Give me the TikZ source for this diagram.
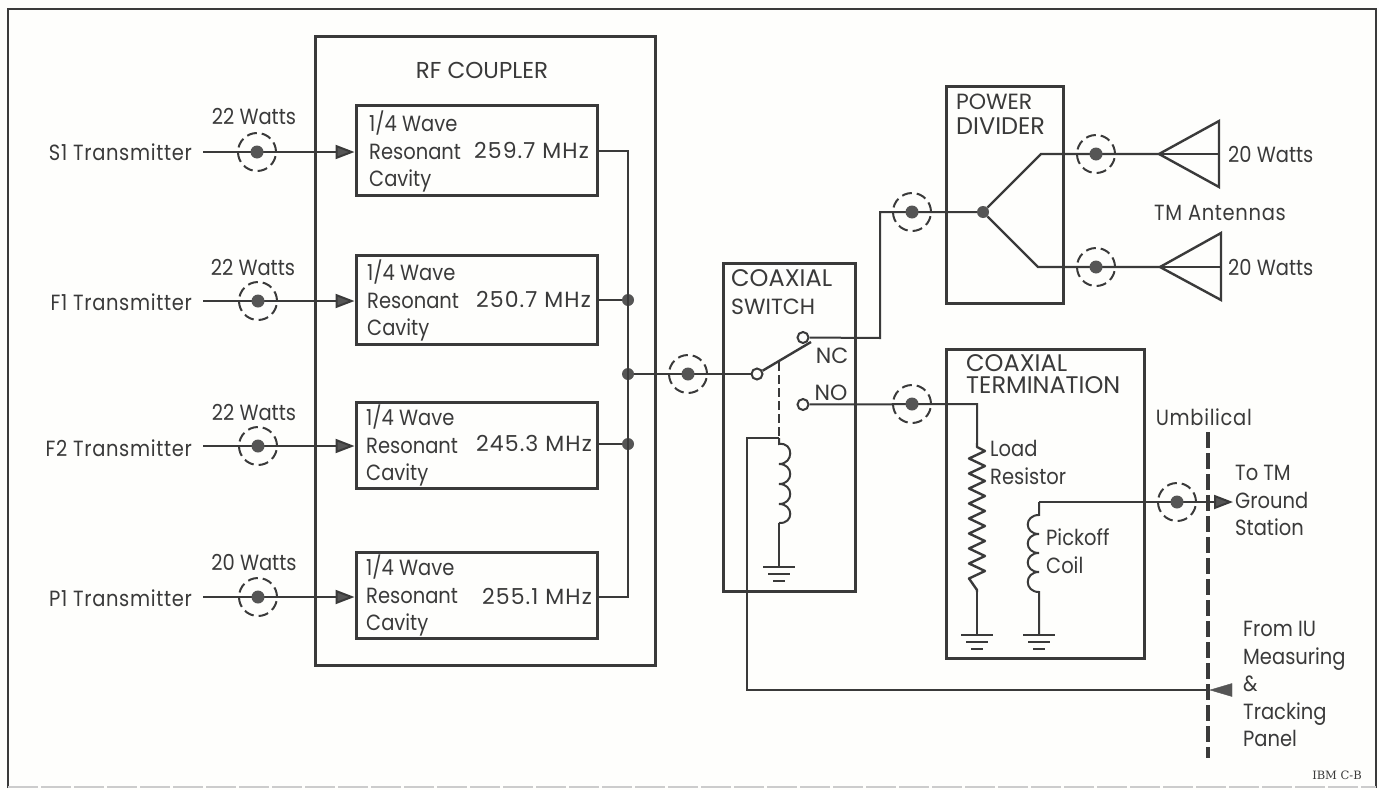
\documentclass[tikz,border=0pt]{standalone}
\usepackage{fontspec}
\setmainfont[FakeStretch=0.886]{Poppins}
\newfontfamily\fA[FakeStretch=0.886]{Poppins}
\newfontfamily\fT[FakeStretch=0.886,LetterSpace=3]{Poppins}
\newfontfamily\fM[LetterSpace=5]{Poppins}
\newfontfamily\fC{Poppins}
\newfontfamily\fI{DejaVu Serif}
\newcommand{\capsA}{\fC\fontsize{24}{27.5}\selectfont}
\newcommand{\capsB}{\fC\fontsize{22}{27.5}\selectfont}
\newcommand{\tl}{\rule{0pt}{20pt}}
\usetikzlibrary{arrows.meta}
\definecolor{ink}{HTML}{3A3A3A}
\definecolor{soft}{HTML}{555555}
\definecolor{paper}{HTML}{FEFEFC}
\tikzset{
  x=1pt,y=-1pt,
  wire/.style={draw=ink,line width=2pt},
  thick box/.style={draw=ink,line width=3pt,line join=miter},
  inner/.style={thick box,minimum width=241pt,inner sep=0pt},
  lab/.style={font=\fA\fontsize{22}{27.5}\selectfont,text=ink,inner sep=0pt,align=left},
  dot/.style={circle,fill=soft,minimum size=12pt,inner sep=0pt},
  coaxring/.style={circle,draw=ink,line width=2pt,dash pattern=on 10pt off 5pt,minimum size=38pt,inner sep=0pt},
  coaxcore/.style={circle,fill=soft,minimum size=13pt,inner sep=0pt},
  contact/.style={circle,draw=ink,fill=paper,line width=2pt,minimum size=11pt,inner sep=0pt},
  tip/.style={-{Triangle[length=19pt,width=14pt,fill=soft]},wire},
}
\newcommand{\coaxat}[2]{\node[coaxring] (#1r) at (#2) {};\node[coaxcore] (#1) at (#2) {};}
\newcommand{\gnd}[2]{%
 \draw[wire] (#1,#2) ++(-16,0) -- ++(32,0);
 \draw[wire] (#1,#2) ++(-11,7) -- ++(22,0);
 \draw[wire] (#1,#2) ++(-6,14) -- ++(12,0);}
\begin{document}
\begin{tikzpicture}
\useasboundingbox (0,0) rectangle (1379,790);
\fill[paper] (0,0) rectangle (1379,790);
\draw[ink,line width=2.6pt] (8,788) -- (8,9) -- (1376,9) -- (1376,788);
\draw[gray!40,line width=1.5pt,dash pattern=on 30pt off 3pt] (8,787) -- (1376,787);
% boxes
\node[thick box,minimum width=340pt,minimum height=629pt,inner sep=0pt] (rf) at (485,350.5) {};
\node[thick box,minimum width=132pt,minimum height=328pt,inner sep=0pt] (sw) at (789,427) {};
\node[thick box,minimum width=117pt,minimum height=217pt,inner sep=0pt] (pd) at (1004.5,194.5) {};
\node[thick box,minimum width=198pt,minimum height=309pt,inner sep=0pt] (ct) at (1045,504) {};
\node[inner,minimum height=90pt] (c1) at (476.5,150) {};
\node[inner,minimum height=89pt] (c2) at (476.5,299.5) {};
\node[inner,minimum height=86pt] (c3) at (476.5,445) {};
\node[inner,minimum height=86pt] (c4) at (476.5,595) {};
\node[lab,anchor=base,font=\fC\fontsize{23}{27.5}\selectfont] (lrf) at (482,78) {RF COUPLER};
% transmitters
\node[lab,anchor=base east,font=\fT\fontsize{22}{27.5}\selectfont] (s1) at (192,160) {S1 Transmitter};
\node[lab,anchor=base east,font=\fT\fontsize{22}{27.5}\selectfont] (f1) at (192,310) {F1 Transmitter};
\node[lab,anchor=base east,font=\fT\fontsize{22}{27.5}\selectfont] (f2) at (192,456) {F2 Transmitter};
\node[lab,anchor=base east,font=\fT\fontsize{22}{27.5}\selectfont] (p1) at (192,606) {P1 Transmitter};
\node[lab,anchor=base] (w1) at (254,124) {22 Watts};
\node[lab,anchor=base] (w2) at (253,275) {22 Watts};
\node[lab,anchor=base] (w3) at (254,420) {22 Watts};
\node[lab,anchor=base] (w4) at (254,570) {20 Watts};
\coordinate (a1) at (203,152);\coordinate (a2) at (203,301);\coordinate (a3) at (203,446);\coordinate (a4) at (203,597);
\draw[tip] (a1) -- (a1-|c1.west);
\draw[tip] (a2) -- (a2-|c2.west);
\draw[tip] (a3) -- (a3-|c3.west);
\draw[tip] (a4) -- (a4-|c4.west);
\coaxat{k1}{257,152}\coaxat{k2}{258,301}\coaxat{k3}{258,446}\coaxat{k4}{258,597}
% cavity text
\foreach \n/\x/\y/\f/\r/\b in {1/369/123/259.7/589/158,2/367/272/250.7/591/307,3/366/417/245.3/592/451,4/366/567/255.1/592/604}{
  \node[lab,anchor=north west] (t\n) at (\x,\y-12.3) {\tl 1/4 Wave\\Resonant\\Cavity};
  \node[lab,anchor=base east,font=\fM\fontsize{22}{27.5}\selectfont] (m\n) at (\r,\b) {\f{} MHz};
}
% bus
\coordinate (b1) at (628,151);\coordinate (b4) at (628,597);
\node[dot] (j2) at (628,300) {};\node[dot] (j3) at (628,374) {};\node[dot] (j4) at (628,444) {};
\draw[wire] (c1.east|-b1) -- (b1) -- (b4) -- (c4.east|-b4);
\draw[wire] (c2.east|-j2) -- (j2);
\draw[wire] (c3.east|-j4) -- (j4);
% switch
\node[contact] (cc) at (757,374) {};
\node[contact] (nc) at (803,337.5) {};
\node[contact] (no) at (803,404.5) {};
\draw[wire] (j3) -- (cc);
\coaxat{k5}{688,374}
\coordinate (arm) at (811,342);
\draw[wire,line width=2.4pt] (cc) -- (arm);
\coordinate (armm) at (779,362);\coordinate (cl) at (779,438);
\draw[wire,dash pattern=on 9pt off 4pt] (armm) -- (cl);
\coordinate (clb) at (779,523);\coordinate (gs) at (779,567);
\draw[wire] (cl) -- (779,444)
  .. controls (794,442) and (794,464) .. (779,464)
  .. controls (794,464) and (794,484) .. (779,484)
  .. controls (794,484) and (794,504) .. (779,504)
  .. controls (794,504) and (794,524) .. (779,523);
\draw[wire] (clb) -- (gs);
\gnd{779}{567}
\coordinate (um) at (1208,690);
\coordinate (cw) at (747,438);
\draw[wire] (cl) -- (cw) -- (cw|-um) -- (um);
\node[lab,anchor=base,font=\capsB] (lnc) at (832,363) {NC};
\node[lab,anchor=base,font=\capsB] (lno) at (831,400) {NO};
\node[lab,anchor=north west,font=\capsA] (lsw) at (731,266.4) {\tl COAXIAL\\\capsB SWITCH};
% NC route
\node[dot] (j5) at (983,212) {};
\coordinate (r1) at (880,338);\coordinate (r2) at (880,212);
\draw[wire] (nc) -- (r1) -- (r2) -- (j5);
\coaxat{k6}{912,212}
\coordinate (u1) at (1041,154);\coordinate (d1) at (1038,267);
\coordinate (ua) at (1159,154);\coordinate (da) at (1160,267);
\draw[wire,line width=2.4pt] (j5) -- (u1) -- (ua);
\draw[wire,line width=2.4pt] (j5) -- (d1) -- (da);
\coaxat{k7}{1096,154}\coaxat{k8}{1096,267}
\draw[wire,line width=2.4pt,line join=miter] (ua) -- (1219,121) -- (1219,187) -- cycle;
\draw[wire] (ua) -- (1219,154);
\draw[wire,line width=2.4pt,line join=miter] (da) -- (1221,233) -- (1221,300) -- cycle;
\draw[wire] (da) -- (1221,267);
\node[lab,anchor=base west] (aw1) at (1228,162) {20 Watts};
\node[lab,anchor=base west] (aw2) at (1228,275) {20 Watts};
\node[lab,anchor=base west,font=\fT\fontsize{22}{27.5}\selectfont] (tma) at (1154,220) {TM Antennas};
\node[lab,anchor=north west,font=\capsB] (lpd) at (956,89.7) {\tl POWER\\[-2.5pt]\capsA DIVIDER};
% termination
\node[lab,anchor=north west,font=\capsA] (lct) at (966,351.4) {\tl COAXIAL\\[-5.5pt]TERMINATION};
\coordinate (t1) at (977,404);
\draw[wire] (no) -- (t1) -- (977,443);
\coaxat{k9}{912,404}
\coordinate (rs) at (977,443);\coordinate (re) at (977,592);\coordinate (rg) at (977,635);
\draw[wire,line width=2.4pt,line join=round] (rs) -- (977,447) -- (985,451)
  -- (969,458.5) -- (985,466) -- (969,473.5) -- (985,481) -- (969,488.5) -- (985,496) -- (969,503.5)
  -- (985,511) -- (969,518.5) -- (985,526) -- (969,533.5) -- (985,541) -- (969,548.5) -- (985,556)
  -- (969,563.5) -- (985,571) -- (969,578.5) -- (977,590) -- (re);
\draw[wire] (re) -- (rg);
\gnd{977}{635}
\coordinate (pk) at (1039,502);\coordinate (pkb) at (1039,594);\coordinate (pg) at (1039,635);
\draw[wire] (pk) -- (1039,515)
  .. controls (1024,515) and (1024,534) .. (1039,534)
  .. controls (1024,534) and (1024,553) .. (1039,553)
  .. controls (1024,553) and (1024,572) .. (1039,572)
  .. controls (1024,572) and (1024,592) .. (1039,592) -- (pg);
\gnd{1039}{635}
\coordinate (tt) at (1233,502);
\draw[tip] (pk) -- (tt);
\coaxat{k10}{1177,502}
\node[lab,anchor=north west] (lload) at (990,436.7) {\tl Load\\Resistor};
\node[lab,anchor=north west] (lpc) at (1046,525.7) {\tl Pickoff\\Coil};
% umbilical
\coordinate (ua1) at (1208,432);\coordinate (ua2) at (1208,758);
\draw[draw=ink,line width=4pt,dash pattern=on 16pt off 5pt] (ua1) -- (ua2);
\node[lab,anchor=base east,font=\fT\fontsize{22}{27.5}\selectfont] (lum) at (1252,425) {Umbilical};
\node[lab,anchor=north west] (lto) at (1235,460.7) {\tl To TM\\Ground\\Station};
\node[lab,anchor=north west] (lfr) at (1243,616.7) {\tl From IU\\Measuring\\\&\\Tracking\\Panel};
\draw[draw=soft,fill=soft] (1210,690) -- (1232,683.5) -- (1232,696.5) -- cycle;
\node[font=\fI\fontsize{11.5}{14}\selectfont,text=ink,inner sep=0pt,anchor=east] (ibm) at (1362,775) {IBM C-B};
\end{tikzpicture}
\end{document}
